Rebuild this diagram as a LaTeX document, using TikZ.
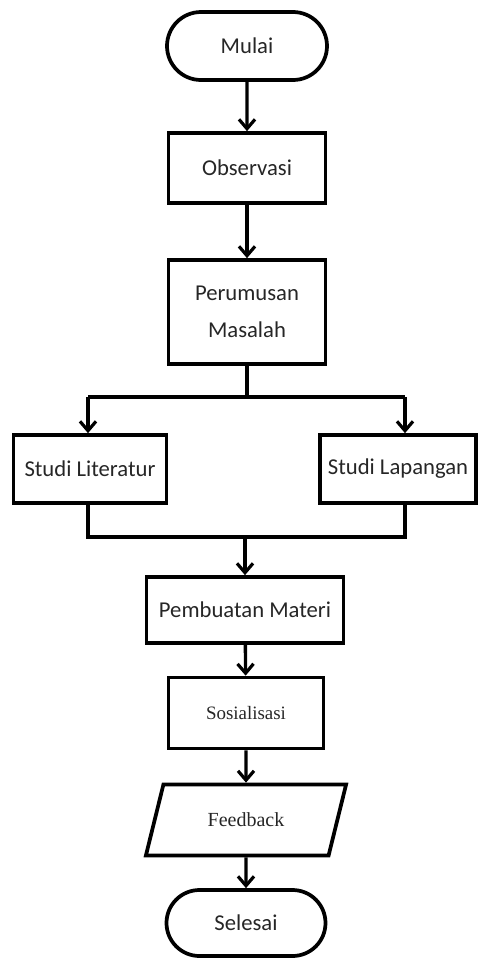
\documentclass[tikz,border=0pt]{standalone}
\usepackage{fontspec}
\setmainfont{Carlito}
\newfontfamily\timesfont{Liberation Serif}
\usetikzlibrary{arrows.meta,shapes.misc,shapes.geometric}

\tikzset{
  kotak/.style={draw,line width=2.8pt,inner sep=0pt,text=black!85,
    font=\fontsize{17}{28}\selectfont,align=center},
  terminal/.style={kotak,rounded rectangle},
  datain/.style={kotak,trapezium,trapezium left angle=60,trapezium right angle=120,
    trapezium stretches=true},
  panah/.style={line width=2.5pt,-{Straight Barb[length=7pt,width=12pt,line width=2.4pt]}},
  garis/.style={line width=2.5pt}
}

\begin{document}
\begin{tikzpicture}[x=0.75pt,y=-0.75pt]
		\useasboundingbox (0,0) rectangle (479,958);

		\node[terminal,minimum width=120pt,minimum height=51pt] (mulai) at (247,46) {Mulai};
		\node[kotak,minimum width=117.75pt,minimum height=52.5pt] (obs) at (247,168) {Observasi};
		\node[kotak,minimum width=117.75pt,minimum height=78pt] (rumus) at (247,312) {Perumusan\\Masalah};

		\node[kotak,minimum width=114.75pt,minimum height=51pt] (lit) at (90,469) {Studi Literatur};
		\node[kotak,minimum width=117pt,minimum height=51pt] (lap) at (398,469) {Studi Lapangan};

		\node[kotak,minimum width=147.75pt,minimum height=49.5pt] (buat) at (245,610) {Pembuatan Materi};
		\node[kotak,minimum width=116.25pt,minimum height=53.25pt,font=\timesfont\fontsize{14.2}{17}\selectfont] (sos) at (246,713) {Sosialisasi};
		\node[datain,minimum width=150.75pt,minimum height=53.25pt,font=\timesfont\fontsize{15}{17}\selectfont] (feed) at (246,820) {Feedback};
		\node[terminal,minimum width=119.25pt,minimum height=49.5pt] (selesai) at (246,923) {Selesai};

		% cabang
		\coordinate (cabKiri) at (88,397);
		\coordinate (cabKanan) at (405,397);
		\coordinate (gabKiri) at (88,537);
		\coordinate (gabKanan) at (405,537);
		\coordinate (gabTengah) at (245,537);

		\draw[panah] (mulai) -- (obs);
		\draw[panah] (obs) -- (rumus);

		\draw[garis] (rumus.south) -- (rumus.south |- cabKiri);
		\draw[garis] (cabKiri) -- (cabKanan);
		\draw[panah] (cabKiri) -- (cabKiri |- lit.north);
		\draw[panah] (cabKanan) -- (cabKanan |- lap.north);

		\draw[garis] (gabKiri |- lit.south) -- (gabKiri) -- (gabKanan) -- (gabKanan |- lap.south);
		\draw[panah] (gabTengah) -- (buat);

		\draw[panah] (buat) -- (sos);
		\draw[panah] (sos) -- (feed);
		\draw[panah] (feed) -- (selesai);
	\end{tikzpicture}
\end{document}
